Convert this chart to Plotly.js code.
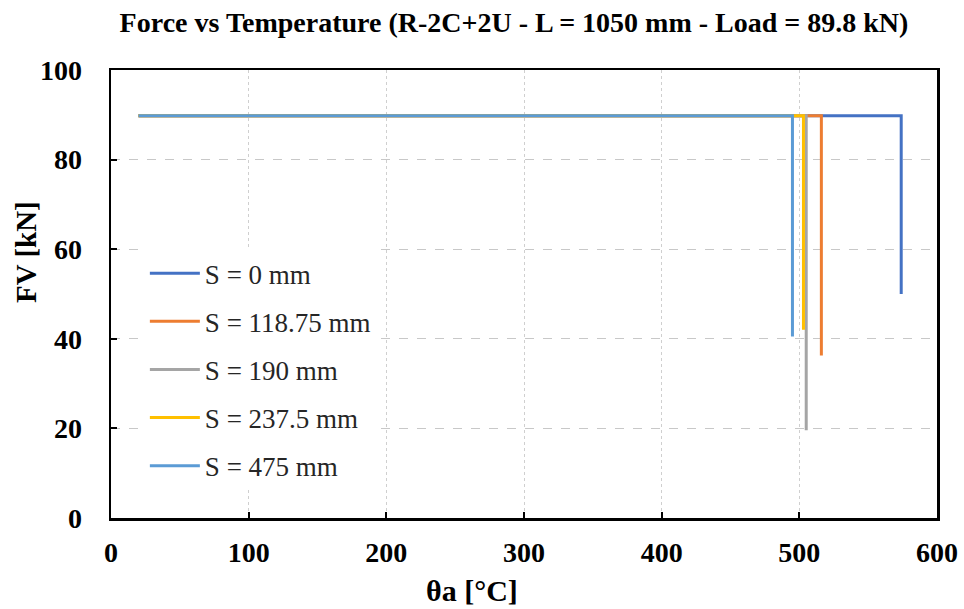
<!DOCTYPE html>
<html>
<head>
<meta charset="utf-8">
<script src="https://cdn.plot.ly/plotly-3.0.1.min.js"></script>
<style>html,body{margin:0;padding:0;background:#fff;}#chart{width:964px;height:609px;}</style>
</head>
<body>
<div id="chart"></div>
<script>
// Series: temperature [°C] and vertical force [kN]
var seriesNames = ["S = 0 mm", "S = 118.75 mm", "S = 190 mm", "S = 237.5 mm", "S = 475 mm"];
var seriesColors = ["#4472C4", "#ED7D31", "#A5A5A5", "#FFC000", "#5B9BD5"];
var tempS0 = [20, 574, 574];
var forceS0 = [89.8, 89.8, 50];
var tempS118 = [20, 516, 516];
var forceS118 = [89.8, 89.8, 36.3];
var tempS190 = [20, 505, 505];
var forceS190 = [89.8, 89.8, 19.6];
var tempS237 = [20, 503, 503];
var forceS237 = [89.8, 89.8, 42];
var tempS475 = [20, 495, 495];
var forceS475 = [89.8, 89.8, 40.5];

var chartTitle = "Force vs Temperature (R-2C+2U - L = 1050 mm - Load = 89.8 kN)";
var xTitle = "θa [°C]";
var yTitle = "FV [kN]";

var xs = [tempS0, tempS118, tempS190, tempS237, tempS475];
var ys = [forceS0, forceS118, forceS190, forceS237, forceS475];

var traces = seriesNames.map(function(n, i){
  return {
    x: xs[i], y: ys[i], name: n, type: 'scatter', mode: 'lines',
    legendgroup: 'g' + i,
    line: {color: seriesColors[i], width: 3}
  };
});

var serif = "Liberation Serif, Times New Roman, serif";
var layout = {
  width: 964, height: 609,
  paper_bgcolor: '#fff', plot_bgcolor: '#fff',
  margin: {l: 111, r: 27, t: 70, b: 91},
  title: {text: "<b>" + chartTitle + "</b>",
          font: {family: serif, size: 28, color: '#000'}, x: (514 - 111) / 826, xanchor: 'center', xref: 'paper',
          y: 1 - 22/609, yanchor: 'middle'},
  xaxis: {
    range: [0, 600], dtick: 100, tick0: 0,
    showline: true, linecolor: '#000', linewidth: 2.5, mirror: true,
    ticks: 'inside', ticklen: 6, tickcolor: '#000', tickwidth: 2,
    showgrid: true, gridcolor: '#cfcfcf', griddash: 'dot', gridwidth: 1,
    zeroline: false, ticklabelstandoff: 8,
    tickfont: {family: serif, size: 28, color: '#000', weight: 'bold'}
  },
  yaxis: {
    range: [0, 100], dtick: 20, tick0: 0,
    showline: true, linecolor: '#000', linewidth: 2.5, mirror: true,
    ticks: 'inside', ticklen: 6, tickcolor: '#000', tickwidth: 2,
    showgrid: true, gridcolor: '#c8c8c8', griddash: 'dash', gridwidth: 1,
    zeroline: false, ticklabelstandoff: 21,
    tickfont: {family: serif, size: 28, color: '#000', weight: 'bold'}
  },
  annotations: [
    {text: "<b>" + xTitle + "</b>", xref: 'paper', yref: 'paper', showarrow: false,
     x: (472 - 111) / 826, y: -(590 - 518) / 448, xanchor: 'center', yanchor: 'middle',
     font: {family: serif, size: 30, color: '#000'}},
    {text: "<b>" + yTitle + "</b>", xref: 'paper', yref: 'paper', showarrow: false, textangle: -90,
     x: -(111 - 26) / 826, y: (518 - 252) / 448, xanchor: 'center', yanchor: 'middle',
     font: {family: serif, size: 29, color: '#000'}}
  ],
  legend: {
    x: 0.041, y: 0.6, xanchor: 'left', yanchor: 'top',
    bgcolor: '#fff', borderwidth: 0,
    font: {family: serif, size: 27, color: '#262626'},
    tracegroupgap: 10, traceorder: 'grouped', itemwidth: 50
  },
  showlegend: true
};

Plotly.newPlot('chart', traces, layout, {displayModeBar: false, staticPlot: true});
</script>
</body>
</html>
